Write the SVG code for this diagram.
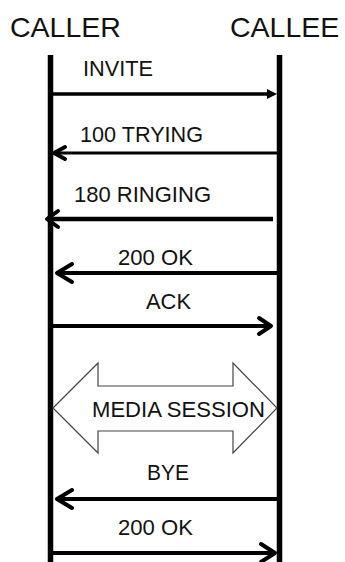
<svg xmlns="http://www.w3.org/2000/svg" width="345" height="562" viewBox="0 0 345 562">
<style>
text{font-family:"Liberation Sans",Arial,sans-serif;fill:#111}
.t{font-size:28.5px}
.l{font-size:22.5px}
.life{stroke:#000;stroke-width:5.5}
.msg{stroke:#000;fill:none;stroke-linecap:butt}
.head{stroke:#000;fill:none;stroke-width:4;stroke-linecap:round;stroke-linejoin:round}
.media{fill:#fff;stroke:#444;stroke-width:1.2}
</style>
<g id="caller">
<text class="t" x="10" y="37">CALLER</text>
<line class="life" x1="50.5" y1="55" x2="50.5" y2="562"/>
</g>
<g id="callee">
<text class="t" x="230" y="37">CALLEE</text>
<line class="life" x1="279.5" y1="55" x2="279.5" y2="562"/>
</g>
<g id="media-session">
<polygon class="media" points="53,408 98,363 98,386 233,386 233,363 277,408 233,453 233,431 98,431 98,453"/>
<text class="l" x="92" y="417" textLength="173" lengthAdjust="spacingAndGlyphs">MEDIA SESSION</text>
</g>
<g id="connectors">
<g id="invite">
<line class="msg" x1="53" y1="94" x2="270" y2="94" stroke-width="3.5"/>
<polygon points="277,94 267,89 267,99" fill="#000"/>
<text class="l" x="83" y="76" textLength="70" lengthAdjust="spacingAndGlyphs">INVITE</text>
</g>
<g id="trying">
<line class="msg" x1="54" y1="153" x2="277" y2="153" stroke-width="3"/>
<polyline class="head" points="65,147 54,153 65,159" stroke-width="3.5"/>
<text class="l" x="80" y="142" textLength="123" lengthAdjust="spacingAndGlyphs">100 TRYING</text>
</g>
<g id="ringing">
<line class="msg" x1="47" y1="219" x2="273" y2="219" stroke-width="4.5"/>
<polyline class="head" points="58,211 47,219 58,227" stroke-width="4.5"/>
<text class="l" x="74" y="202" textLength="137" lengthAdjust="spacingAndGlyphs">180 RINGING</text>
</g>
<g id="ok1">
<line class="msg" x1="56" y1="273" x2="277" y2="273" stroke-width="4"/>
<polyline class="head" points="72,264 57,273 72,282"/>
<text class="l" x="118" y="265" textLength="75" lengthAdjust="spacingAndGlyphs">200 OK</text>
</g>
<g id="ack">
<line class="msg" x1="53" y1="326" x2="271" y2="326" stroke-width="4"/>
<polyline class="head" points="259,318 271,326 259,334"/>
<text class="l" x="146" y="309" textLength="45" lengthAdjust="spacingAndGlyphs">ACK</text>
</g>
<g id="bye">
<line class="msg" x1="56" y1="499" x2="277" y2="499" stroke-width="4"/>
<polyline class="head" points="72,490 57,499 72,508"/>
<text class="l" x="147" y="480" textLength="42" lengthAdjust="spacingAndGlyphs">BYE</text>
</g>
<g id="ok2">
<line class="msg" x1="53" y1="553" x2="275" y2="553" stroke-width="4"/>
<polyline class="head" points="261,544 275,553 261,562"/>
<text class="l" x="118" y="535" textLength="75" lengthAdjust="spacingAndGlyphs">200 OK</text>
</g>
</g>
</svg>
